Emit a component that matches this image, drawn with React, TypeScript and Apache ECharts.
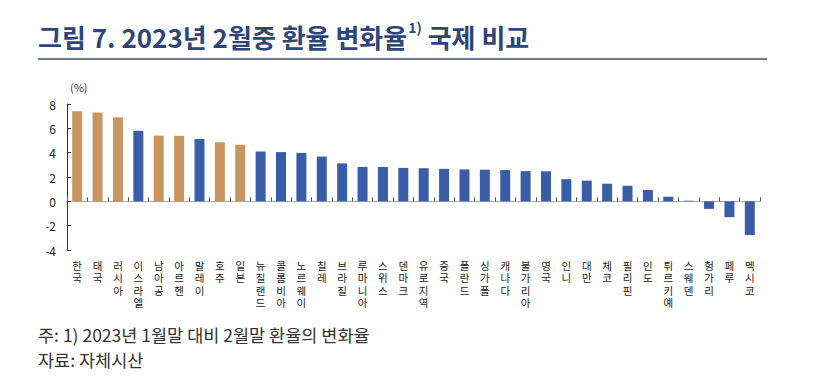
import React, { useEffect, useRef } from "react";
import * as echarts from "echarts";

const categories = [
  "한국", "태국", "러시아", "이스라엘", "남아공", "아르헨", "말레이", "호주", "일본",
  "뉴질랜드", "콜롬비아", "노르웨이", "칠레", "브라질", "루마니아", "스위스", "덴마크",
  "유로지역", "중국", "폴란드", "싱가폴", "캐나다", "불가리아", "영국", "인니", "대만",
  "체코", "필리핀", "인도", "튀르키예", "스웨덴", "헝가리", "페루", "멕시코",
];

const values = [
  7.4, 7.3, 6.9, 5.8, 5.4, 5.38, 5.12, 4.85, 4.65,
  4.1, 4.05, 3.98, 3.68, 3.12, 2.83, 2.82, 2.75,
  2.72, 2.67, 2.62, 2.6, 2.57, 2.48, 2.47, 1.82, 1.7,
  1.45, 1.28, 0.93, 0.38, 0.05, -0.62, -1.3, -2.77,
];

const highlighted = ["한국", "태국", "러시아", "남아공", "아르헨", "호주", "일본"];

const yTicks = { min: -4, max: 8, interval: 2 };

const titleMain = "그림 7. 2023년 2월중 환율 변화율";
const titleSup = "1)";
const titleTail = " 국제 비교";
const unitLabel = "(%)";
const notes = ["주: 1) 2023년 1월말 대비 2월말 환율의 변화율", "자료: 자체시산"];

const TAN = "#C8955F";
const BLUE = "#3A5DA8";
const FONT = "'Noto Sans CJK KR', 'Noto Sans', sans-serif";
const LABEL_FONT = "'Liberation Sans', 'Noto Sans CJK KR', sans-serif";

export default function App() {
  const ref = useRef<HTMLDivElement>(null);
  useEffect(() => {
    if (!ref.current) return;
    const chart = echarts.init(ref.current, null, { renderer: "svg" });
    chart.setOption({
      animation: false,
      backgroundColor: "#ffffff",
      textStyle: { fontFamily: FONT },
      graphic: [
        {
          type: "text",
          left: 38,
          top: 20,
          style: {
            text: `{a|${titleMain}}{s|${titleSup}}{a|${titleTail}}`,
            rich: {
              a: { fontSize: 26, fontWeight: "bold", fill: "#2E4677", fontFamily: FONT, lineHeight: 32 },
              s: { fontSize: 14, fontWeight: "bold", fill: "#2E4677", fontFamily: FONT, verticalAlign: "top", lineHeight: 32, padding: [0, 0, 12, 1] },
            },
          },
        },
        {
          type: "line",
          shape: { x1: 38, y1: 59, x2: 767, y2: 59 },
          style: { stroke: "#3D4F6E", lineWidth: 1.5 },
        },
        {
          type: "text",
          left: 70,
          top: 81,
          style: { text: unitLabel, fontSize: 11, fill: "#333", fontFamily: FONT },
        },
        {
          type: "text",
          left: 38,
          top: 326,
          style: { text: notes[0], fontSize: 17.5, fill: "#333", fontFamily: FONT },
        },
        {
          type: "text",
          left: 38,
          top: 351,
          style: { text: notes[1], fontSize: 17.5, fill: "#333", fontFamily: FONT },
        },
      ],
      grid: { left: 67, right: 65, top: 104, bottom: 136, containLabel: false },
      xAxis: [
        {
          type: "category",
          data: categories,
          position: "bottom",
          axisLine: { show: false, onZero: false },
          axisTick: { show: false },
          axisLabel: {
            interval: 0,
            margin: 10,
            fontSize: 10.5,
            lineHeight: 12.2,
            color: "#222",
            fontFamily: LABEL_FONT,
            formatter: (v: string) => v.split("").join("\n"),
            verticalAlign: "top",
          },
        },
        {
          type: "category",
          data: categories,
          position: "top",
          axisLine: { show: true, onZero: true, lineStyle: { color: "#A6A6A6", width: 1 } },
          axisTick: { show: true, inside: false, length: 4, interval: 0, lineStyle: { color: "#555" } },
          axisLabel: { show: false },
        },
      ],
      yAxis: {
        type: "value",
        min: yTicks.min,
        max: yTicks.max,
        interval: yTicks.interval,
        axisLine: { show: true, lineStyle: { color: "#333", width: 1 } },
        axisTick: { show: true, inside: true, length: 4, lineStyle: { color: "#333" } },
        splitLine: { show: false },
        axisLabel: { fontSize: 12, color: "#222", margin: 11, fontFamily: FONT },
      },
      series: [
        {
          type: "bar",
          xAxisIndex: 0,
          barWidth: 10,
          data: values.map((v, i) => ({
            value: v,
            itemStyle: { color: highlighted.includes(categories[i]) ? TAN : BLUE },
          })),
        },
      ],
    });
    return () => chart.dispose();
  }, []);
  return (
    <div
      ref={ref}
      style={{ position: "fixed", left: 0, top: 0, width: 825, height: 386, background: "#fff" }}
    />
  );
}
